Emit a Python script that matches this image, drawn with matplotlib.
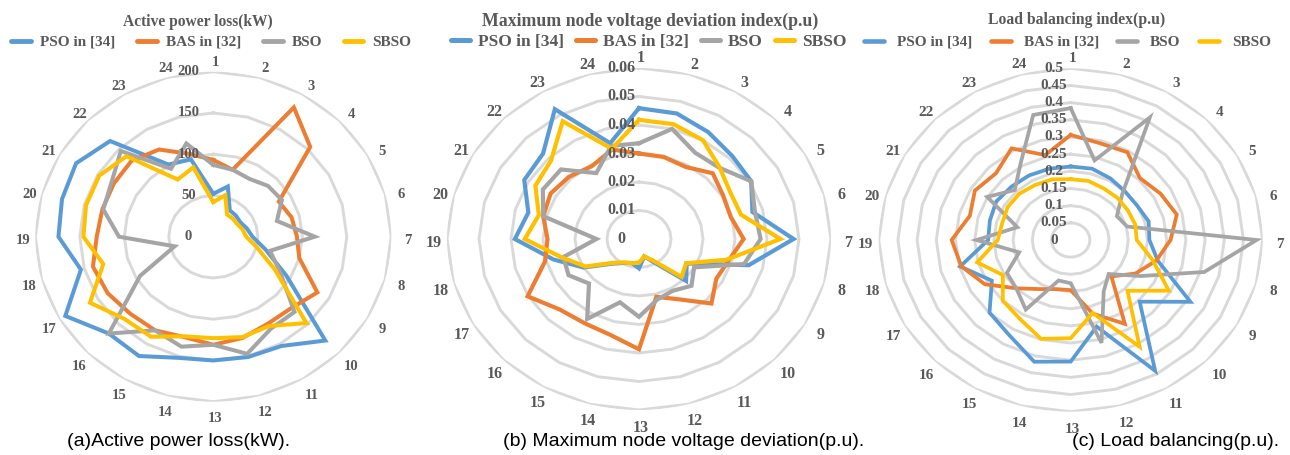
import numpy as np
import matplotlib.pyplot as plt
from matplotlib.transforms import ScaledTranslation

# radar spokes: 24 nodes, node 1 at the top, clockwise
nodes = [str(i) for i in range(1, 25)]
series_names = ["PSO in [34]", "BAS in [32]", "BSO", "SBSO"]
series_colors = ["#5B9BD5", "#ED7D31", "#A5A5A5", "#FFC000"]

# (a) active power loss, kW
pso_loss = [52, 63, 37, 36, 35, 39, 44, 61, 95, 178, 153, 151,
            150, 152, 167, 166, 192, 154, 174, 176, 178, 164, 101, 97]
bas_loss = [93, 84, 181, 154, 85, 91, 94, 100, 135, 123, 122, 127,
            131, 126, 131, 132, 137, 140, 131, 129, 129, 130, 122, 104]
bso_loss = [87, 84, 81, 87, 89, 74, 114, 66, 87, 129, 129, 147,
            131, 138, 131, 166, 95, 45, 106, 128, 132, 147, 95, 117]
sbso_loss = [42, 52, 31, 31, 31, 34, 37, 51, 80, 148, 125, 126,
             123, 125, 140, 141, 160, 128, 146, 148, 148, 138, 80, 87]
loss_rings = [0, 50, 100, 150, 200]
loss_ring_labels = ["0", "50", "100", "150", "200"]

# (b) maximum node voltage deviation, p.u
pso_vd = [0.0459, 0.0456, 0.0433, 0.0412, 0.0405, 0.0367, 0.0483, 0.0355,
          0.0172, 0.0208, 0.0095, 0.0063, 0.0103, 0.0087, 0.0097, 0.0123,
          0.0200, 0.0277, 0.0388, 0.0358, 0.0414, 0.0424, 0.0526, 0.0348]
bas_vd = [0.0300, 0.0298, 0.0292, 0.0326, 0.0304, 0.0297, 0.0327, 0.0290,
          0.0279, 0.0320, 0.0244, 0.0210, 0.0387, 0.0348, 0.0341, 0.0350,
          0.0402, 0.0304, 0.0286, 0.0310, 0.0319, 0.0309, 0.0295, 0.0325]
bso_vd = [0.0336, 0.0400, 0.0350, 0.0354, 0.0405, 0.0375, 0.0380, 0.0340,
          0.0199, 0.0232, 0.0210, 0.0220, 0.0273, 0.0230, 0.0324, 0.0221,
          0.0254, 0.0245, 0.0133, 0.0310, 0.0347, 0.0345, 0.0267, 0.0338]
sbso_vd = [0.0418, 0.0417, 0.0400, 0.0356, 0.0329, 0.0330, 0.0442, 0.0282,
           0.0170, 0.0188, 0.0087, 0.0063, 0.0083, 0.0088, 0.0095, 0.0119,
           0.0193, 0.0250, 0.0357, 0.0324, 0.0374, 0.0389, 0.0477, 0.0328]
vd_rings = [0, 0.01, 0.02, 0.03, 0.04, 0.05, 0.06]
vd_ring_labels = ["0", "0.01", "0.02", "0.03", "0.04", "0.05", "0.06"]

# (c) load balancing index, p.u
pso_lb = [0.214, 0.215, 0.207, 0.200, 0.200, 0.210, 0.205, 0.235,
          0.360, 0.254, 0.440, 0.261, 0.354, 0.367, 0.320, 0.299,
          0.237, 0.298, 0.215, 0.218, 0.224, 0.219, 0.217, 0.215]
bas_lb = [0.306, 0.292, 0.295, 0.255, 0.270, 0.286, 0.260, 0.231,
          0.195, 0.150, 0.282, 0.222, 0.146, 0.148, 0.165, 0.199,
          0.258, 0.295, 0.310, 0.272, 0.288, 0.275, 0.308, 0.256]
bso_lb = [0.384, 0.240, 0.412, 0.190, 0.139, 0.152, 0.484, 0.360,
          0.210, 0.140, 0.172, 0.310, 0.126, 0.122, 0.234, 0.200,
          0.192, 0.139, 0.245, 0.144, 0.251, 0.206, 0.260, 0.377]
sbso_lb = [0.177, 0.178, 0.173, 0.173, 0.172, 0.174, 0.172, 0.220,
           0.295, 0.209, 0.359, 0.220, 0.286, 0.298, 0.265, 0.250,
           0.204, 0.252, 0.190, 0.185, 0.190, 0.190, 0.185, 0.183]
lb_rings = [0, 0.05, 0.1, 0.15, 0.2, 0.25, 0.3, 0.35, 0.4, 0.45, 0.5]
lb_ring_labels = ["0", "0.05", "0.1", "0.15", "0.2", "0.25", "0.3",
                  "0.35", "0.4", "0.45", "0.5"]

W, H = 1290, 455
TXT = "#595959"
GRID = "#D9D9D9"

fig = plt.figure(figsize=(W / 100, H / 100), dpi=100)


# pixel position (from top-left) -> figure fraction
def px(x, y):
    return x / W, 1 - y / H


def serif(size):
    return {"family": "Liberation Serif", "weight": "bold", "size": size}


# one Excel-like radar panel; the box is wider than tall so the rings are ellipses
def radar(center, rx, ry, data, rings, ring_labels, title, title_xy,
          legend_xy, legend_space, caption, caption_xy,
          fs_tick, fs_title, fs_leg, lw, shift_px):
    cx, cy = center
    left, top = px(cx - rx, cy - ry)
    ax = fig.add_axes([left, top - 2 * ry / H, 2 * rx / W, 2 * ry / H],
                      projection="polar")
    ax.set_aspect("auto")
    ax.set_theta_zero_location("N")
    ax.set_theta_direction(-1)

    theta = np.linspace(0, 2 * np.pi, len(nodes), endpoint=False)
    closed = np.append(theta, theta[0])

    # polygon gridlines
    for r in rings[1:]:
        ax.plot(closed, [r] * len(closed), color=GRID, lw=2.1, zorder=1)

    for name, vals, col in zip(series_names, data, series_colors):
        ax.plot(closed, list(vals) + [vals[0]], color=col, lw=lw, label=name,
                zorder=3, solid_joinstyle="miter")

    ax.set_ylim(0, rings[-1])
    ax.set_xticks([])
    ax.set_yticks([])
    ax.grid(False)
    ax.spines["polar"].set_visible(False)
    ax.patch.set_alpha(0)

    # value labels up the node-1 spoke, nudged left
    shift = ScaledTranslation(shift_px / 100, 0, fig.dpi_scale_trans)
    for r, t in zip(rings, ring_labels):
        ax.text(0, r, t, transform=ax.transData + shift, ha="center",
                va="center", color=TXT, fontdict=serif(fs_tick), zorder=4)

    # node numbers just outside the outer ring, sitting a little low
    nudge = ScaledTranslation(0.02, -0.04, fig.dpi_scale_trans)
    for th, lab in zip(theta, nodes):
        ax.text(th, rings[-1] * 1.08, lab, transform=ax.transData + nudge,
                ha="center", va="center", color=TXT, fontdict=serif(fs_tick))

    fig.text(*px(*title_xy), title, ha="center", va="center", color=TXT,
             fontdict=serif(fs_title))
    hl, tp, cs = legend_space
    ax.legend(loc="center", bbox_to_anchor=px(*legend_xy),
              bbox_transform=fig.transFigure, ncol=4, frameon=False,
              prop=serif(fs_leg), labelcolor=TXT, handlelength=hl,
              handletextpad=tp, columnspacing=cs, borderpad=0)
    for line in ax.get_legend().get_lines():
        line.set_linewidth(lw + 0.6)
        line.set_solid_capstyle("round")
    fig.text(*px(*caption_xy), caption, ha="center", va="center",
             family="Liberation Sans", size=14, color="black")
    return ax


radar((213.3, 236.7), 178, 165,
      [pso_loss, bas_loss, bso_loss, sbso_loss], loss_rings, loss_ring_labels,
      "Active power loss(kW)", (198, 22), (211.5, 42), (1.3, 0.6, 1.4),
      "(a)Active power loss(kW).", (178.5, 442),
      fs_tick=10.5, fs_title=11.2, fs_leg=11, lw=2.9, shift_px=-25)

radar((639, 239), 192, 171,
      [pso_vd, bas_vd, bso_vd, sbso_vd], vd_rings, vd_ring_labels,
      "Maximum node voltage deviation index(p.u)", (650, 21), (648.5, 42),
      (1.1, 0.45, 0.7),
      "(b) Maximum node voltage deviation(p.u).", (684, 442),
      fs_tick=11.5, fs_title=12.8, fs_leg=12.5, lw=3.0, shift_px=-18)

radar((1070.7, 240), 192, 171.7,
      [pso_lb, bas_lb, bso_lb, sbso_lb], lb_rings, lb_ring_labels,
      "Load balancing index(p.u)", (1077, 20), (1067.5, 42), (1.3, 0.85, 1.2),
      "(c) Load balancing(p.u).", (1175.5, 442),
      fs_tick=11, fs_title=11.3, fs_leg=11, lw=2.7, shift_px=-17)

fig.savefig("out.png", dpi=100)
